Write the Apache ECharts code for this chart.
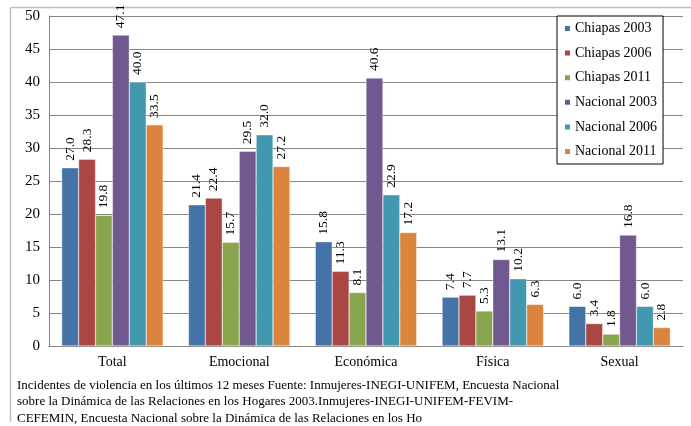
<!DOCTYPE html>
<html>
<head>
<meta charset="utf-8">
<script src="https://cdn.jsdelivr.net/npm/echarts@6/dist/echarts.min.js"></script>
<style>
  html, body { margin: 0; padding: 0; background: #ffffff; }
  #chart { width: 691px; height: 426px; }
</style>
</head>
<body>
<div id="chart"></div>
<script>
// Violence categories and survey series
const categories = ['Total', 'Emocional', 'Económica', 'Física', 'Sexual'];
const seriesNames = ['Chiapas 2003', 'Chiapas 2006', 'Chiapas 2011', 'Nacional 2003', 'Nacional 2006', 'Nacional 2011'];
const chiapas2003 = [27.0, 21.4, 15.8, 7.4, 6.0];
const chiapas2006 = [28.3, 22.4, 11.3, 7.7, 3.4];
const chiapas2011 = [19.8, 15.7, 8.1, 5.3, 1.8];
const nacional2003 = [47.1, 29.5, 40.6, 13.1, 16.8];
const nacional2006 = [40.0, 32.0, 22.9, 10.2, 6.0];
const nacional2011 = [33.5, 27.2, 17.2, 6.3, 2.8];
const yTicks = { min: 0, max: 50, interval: 5 };

const palette = ['#4572A7', '#AA4643', '#89A54E', '#71588F', '#4198AF', '#DB843D'];
const values = [chiapas2003, chiapas2006, chiapas2011, nacional2003, nacional2006, nacional2011];
const serif = '"Liberation Serif", "Times New Roman", serif';

const footer = 'Incidentes de violencia en los últimos 12 meses Fuente: Inmujeres-INEGI-UNIFEM, Encuesta Nacional\n' +
  'sobre la Dinámica de las Relaciones en los Hogares 2003.Inmujeres-INEGI-UNIFEM-FEVIM-\n' +
  'CEFEMIN, Encuesta Nacional sobre la Dinámica de las Relaciones en los Ho';

const chart = echarts.init(document.getElementById('chart'), null, { renderer: 'canvas' });

chart.setOption({
  animation: false,
  backgroundColor: '#ffffff',
  color: palette,
  grid: { left: 49, right: 8, top: 16, bottom: 80, containLabel: false },
  legend: {
    orient: 'vertical',
    left: 557,
    top: 16,
    width: 107,
    padding: [5, 6, 5, 6],
    itemWidth: 7,
    itemHeight: 7,
    itemGap: 9.6,
    icon: 'rect',
    backgroundColor: '#ffffff',
    borderColor: '#000000',
    borderWidth: 1,
    data: seriesNames,
    textStyle: { fontFamily: serif, fontSize: 14, color: '#000000', lineHeight: 15, padding: [0, 0, 0, -1] }
  },
  xAxis: {
    type: 'category',
    data: categories,
    axisLine: { show: true, lineStyle: { color: '#868686', width: 1 } },
    axisTick: { show: false },
    axisLabel: { fontFamily: serif, fontSize: 14, color: '#000000', margin: 9 }
  },
  yAxis: {
    type: 'value',
    min: yTicks.min,
    max: yTicks.max,
    interval: yTicks.interval,
    axisLine: { show: true, lineStyle: { color: '#868686', width: 1 } },
    axisTick: { show: false },
    axisLabel: { fontFamily: serif, fontSize: 15, color: '#000000', margin: 9 },
    splitLine: { show: true, lineStyle: { color: '#868686', width: 1 } }
  },
  series: seriesNames.map((name, i) => ({
    name: name,
    type: 'bar',
    data: values[i],
    barGap: '0%',
    barCategoryGap: '20%',
    itemStyle: { color: palette[i], borderColor: '#ffffff', borderWidth: 0.4 },
    label: {
      show: true,
      position: 'top',
      rotate: 90,
      align: 'left',
      verticalAlign: 'middle',
      distance: 7,
      fontFamily: serif,
      fontSize: 13.5,
      color: '#000000',
      formatter: p => p.value.toFixed(1)
    }
  })),
  graphic: [
    { type: 'line', shape: { x1: 10.5, y1: 7.5, x2: 691, y2: 7.5 }, style: { stroke: '#bfbfbf', lineWidth: 1.5 }, silent: true },
    { type: 'line', shape: { x1: 10.5, y1: 7.5, x2: 10.5, y2: 422 }, style: { stroke: '#bfbfbf', lineWidth: 1.5 }, silent: true },
    {
      type: 'text',
      left: 17,
      top: 377,
      style: { text: footer, font: '13px ' + serif, fill: '#000000', lineHeight: 16.5 }
    }
  ]
});
</script>
</body>
</html>
